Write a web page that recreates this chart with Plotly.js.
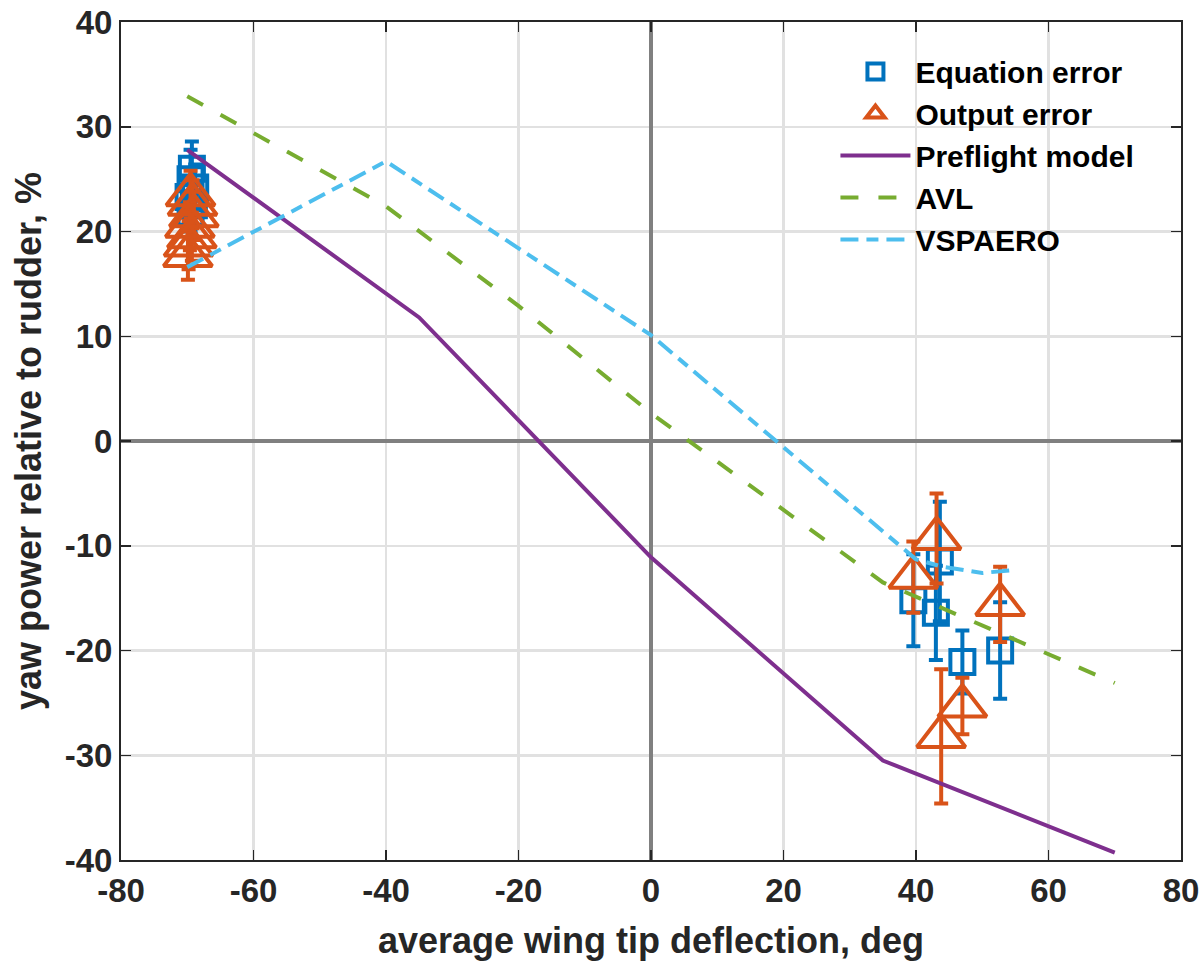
<!DOCTYPE html>
<html>
<head>
<meta charset="utf-8">
<script src="https://cdn.plot.ly/plotly-3.0.1.min.js"></script>
<style>html,body{margin:0;padding:0;background:#fff;}#chart{width:1200px;height:962px;}</style>
</head>
<body>
<div id="chart"></div>
<script>
// Equation error estimates
const eqX   = [-69.3, -69.5, -68.8, -69.8, -69.0, -69.5, 39.6, 43.0, 43.6, 47.0, 52.7];
const eqY   = [26.0, 25.0, 24.2, 23.3, 22.5, 21.8, -15.2, -16.4, -11.5, -21.1, -20.0];
const eqErr = [2.6, 2.8, 2.2, 2.0, 2.0, 1.8, 4.4, 4.5, 5.7, 3.0, 4.6];

// Output error estimates
const oeX   = [-69.5, -69.2, -69.0, -69.6, -69.3, -69.8, -69.9, 39.6, 43.1, 43.8, 47.0, 52.7];
const oeY   = [23.5, 22.6, 21.5, 20.5, 19.5, 18.7, 17.7, -13.0, -9.3, -28.2, -25.3, -15.6];
const oeErr = [2.3, 2.3, 2.3, 2.3, 2.3, 2.3, 2.3, 3.4, 4.3, 6.4, 2.7, 3.6];

// Preflight model
const preX = [-70, -35, 0, 35, 70];
const preY = [27.8, 11.8, -11.1, -30.5, -39.3];

// AVL
const avlX = [-70, -40, -20, 0, 35, 70];
const avlY = [32.9, 22.4, 12.9, 2.65, -13.5, -23.1];

// VSPAERO
const vspX = [-70, -40, 0, 40, 44, 50, 55];
const vspY = [16.6, 26.7, 10.1, -11.3, -12.0, -12.6, -12.3];

const xTicks = [-80, -60, -40, -20, 0, 20, 40, 60, 80];
const yTicks = [-40, -30, -20, -10, 0, 10, 20, 30, 40];

const FONT = 'Liberation Sans, Arial, Helvetica, sans-serif';
const DARK = '#262626';

const traces = [
  {
    name: 'Equation error', x: eqX, y: eqY, type: 'scatter', mode: 'markers',
    marker: {symbol: 'square-open', size: 24, color: '#0072BD', line: {width: 4, color: '#0072BD'}},
    error_y: {type: 'data', array: eqErr, visible: true, color: '#0072BD', thickness: 4, width: 7}
  },
  {
    name: 'Output error', x: oeX, y: oeY, type: 'scatter', mode: 'markers',
    marker: {symbol: 'triangle-up-open', size: 42, color: '#D95319', line: {width: 4, color: '#D95319'}},
    error_y: {type: 'data', array: oeErr, visible: true, color: '#D95319', thickness: 4, width: 7}
  },
  {
    name: 'Preflight model', x: preX, y: preY, type: 'scatter', mode: 'lines',
    line: {color: '#7E2F8E', width: 4}
  },
  {
    name: 'AVL', x: avlX, y: avlY, type: 'scatter', mode: 'lines',
    line: {color: '#77AC30', width: 4, dash: '18px,20px'}
  },
  {
    name: 'VSPAERO', x: vspX, y: vspY, type: 'scatter', mode: 'lines',
    line: {color: '#4DBEEE', width: 4, dash: '18px,8px,12px,8px'}
  }
];

const axisCommon = {
  showline: true, linecolor: DARK, linewidth: 2, mirror: 'ticks',
  ticks: 'inside', ticklen: 10, tickwidth: 1.5, tickcolor: DARK,
  showgrid: true, gridcolor: '#e1e1e1', gridwidth: 2.5,
  zeroline: true, zerolinecolor: '#808080', zerolinewidth: 4.5,
  tickfont: {family: FONT, size: 33, color: DARK, weight: 'bold'}
};

const layout = {
  width: 1200, height: 962,
  margin: {l: 121, r: 19, t: 22, b: 102},
  paper_bgcolor: '#ffffff', plot_bgcolor: '#ffffff',
  showlegend: true,
  legend: {
    x: 0.674, y: 0.972, xanchor: 'left', yanchor: 'top',
    bgcolor: 'rgba(255,255,255,0)', borderwidth: 0,
    font: {family: FONT, size: 30, color: '#000000', weight: 'bold'},
    itemwidth: 70, tracegroupgap: 0
  },
  xaxis: Object.assign({}, axisCommon, {
    range: [-80, 80], tickmode: 'array', tickvals: xTicks, ticktext: xTicks.map(String),
    title: {text: 'average wing tip deflection, deg', font: {family: FONT, size: 36, color: DARK, weight: 'bold'}, standoff: 20}
  }),
  yaxis: Object.assign({}, axisCommon, {
    range: [-40, 40], tickmode: 'array', tickvals: yTicks, ticktext: yTicks.map(String),
    title: {text: 'yaw power relative to rudder, %', font: {family: FONT, size: 36, color: DARK, weight: 'bold'}, standoff: 12}
  })
};

Plotly.newPlot('chart', traces, layout, {displayModeBar: false, staticPlot: true});
</script>
</body>
</html>
